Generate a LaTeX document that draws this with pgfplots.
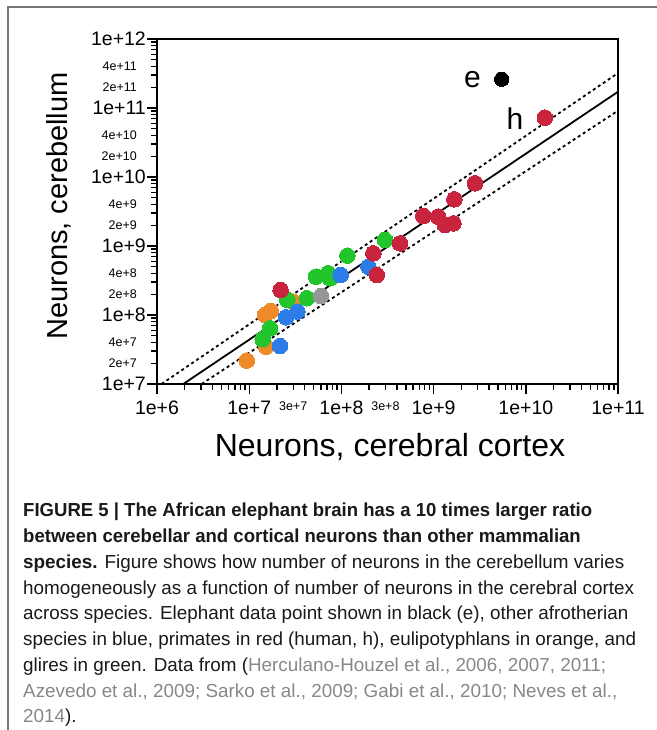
\documentclass[border=0pt]{standalone}
\usepackage{pgfplots}
\pgfplotsset{compat=1.18}
\usepackage{fontspec}
\setmainfont{Liberation Sans}
\newcommand\fs[1]{\fontsize{#1bp}{#1bp}\selectfont}

\definecolor{cred}{RGB}{200,36,62}
\definecolor{cgreen}{RGB}{34,197,44}
\definecolor{cblue}{RGB}{45,125,232}
\definecolor{corange}{RGB}{238,138,40}
\definecolor{cgray}{RGB}{150,150,150}
\definecolor{captext}{RGB}{25,25,25}
\definecolor{citegray}{RGB}{135,135,135}
\definecolor{framegray}{RGB}{120,120,120}

\pgfplotsset{
  dot/.style={only marks, mark=*, mark size=7.8bp, color=#1,
    mark options={line width=0pt}},
}

\begin{document}
\begin{tikzpicture}[x=1bp,y=1bp]
\path[use as bounding box] (0,0) rectangle (657,730);
\draw[framegray, line width=1.4bp] (8,0) -- (8,723) -- (658,723);

\begin{axis}[
  at={(157bp,346bp)}, anchor=south west,
  width=461bp, height=345bp, scale only axis,
  xmode=log, ymode=log,
  xmin=1e6, xmax=1e11, ymin=1e7, ymax=1e12,
  axis line style={line width=1.6bp},
  every tick/.style={black, line width=1.4bp},
  tick align=outside, xtick pos=lower, ytick pos=left,
  major tick length=10bp, minor tick length=6bp,
  /pgf/number format/assume math mode=true,
  xtick={1e6,1e7,1e8,1e9,1e10,1e11},
  xticklabels={1e+6,1e+7,1e+8,1e+9,1e+10,1e+11},
  ytick={1e7,1e8,1e9,1e10,1e11,1e12},
  yticklabels={1e+7,1e+8,1e+9,1e+10,1e+11,1e+12},
  minor xtick={2e6,3e6,4e6,5e6,6e6,7e6,8e6,9e6,
    2e7,3e7,4e7,5e7,6e7,7e7,8e7,9e7,
    2e8,3e8,4e8,5e8,6e8,7e8,8e8,9e8,
    2e9,3e9,4e9,5e9,6e9,7e9,8e9,9e9,
    2e10,3e10,4e10,5e10,6e10,7e10,8e10,9e10},
  minor ytick={2e7,3e7,4e7,5e7,6e7,7e7,8e7,9e7,
    2e8,3e8,4e8,5e8,6e8,7e8,8e8,9e8,
    2e9,3e9,4e9,5e9,6e9,7e9,8e9,9e9,
    2e10,3e10,4e10,5e10,6e10,7e10,8e10,9e10,
    2e11,3e11,4e11,5e11,6e11,7e11,8e11,9e11},
  xticklabel style={font=\fs{19.5}, inner sep=1bp, yshift=-6bp},
  yticklabel style={font=\fs{19.5}, inner sep=1bp},
  extra x ticks={3e7,3e8},
  extra x tick labels={3e+7,3e+8},
  extra x tick style={major tick length=6bp,
    xticklabel style={font=\fs{12.5}, yshift=-5bp}},
  extra y ticks={2e7,4e7,2e8,4e8,2e9,4e9,2e10,4e10,2e11,4e11},
  extra y tick labels={2e+7,4e+7,2e+8,4e+8,2e+9,4e+9,2e+10,4e+10,2e+11,4e+11},
  extra y tick style={major tick length=6bp,
    yticklabel style={font=\fs{12.5}, xshift=-13bp}},
  clip=true,
]
% fitted line and its band
\addplot[black, line width=1.8bp] coordinates {(1.93e6,1e7) (1e11,1.72e11)};
\addplot[black, line width=1.8bp, dash pattern=on 3bp off 3bp] coordinates {(1.12e6,1e7) (1e11,3.21e11)};
\addplot[black, line width=1.8bp, dash pattern=on 3bp off 3bp] coordinates {(3.05e6,1e7) (1e11,9.14e10)};

% eulipotyphlans
\addplot[dot=corange] coordinates {
  (9.4e6,2.18e7) (1.52e7,3.48e7) (1.48e7,1.0e8) (1.71e7,1.14e8) (3.0e7,1.56e8)};
% glires
\addplot[dot=cgreen] coordinates {
  (1.40e7,4.45e7) (1.68e7,6.4e7) (2.59e7,1.65e8) (4.21e7,1.75e8)
  (5.31e7,3.59e8) (7.52e7,3.40e8) (7.21e7,4.02e8) (1.16e8,7.24e8) (2.97e8,1.22e9)};
% grey
\addplot[dot=cgray] coordinates {(6.01e7,1.88e8)};
% other afrotherians
\addplot[dot=cblue] coordinates {
  (2.16e7,3.56e7) (2.51e7,9.27e7) (3.33e7,1.12e8) (9.82e7,3.80e8) (1.96e8,5.01e8)};
% primates
\addplot[dot=cred] coordinates {
  (2.19e7,2.30e8) (2.22e8,7.83e8) (2.42e8,3.80e8) (4.33e8,1.09e9)
  (7.73e8,2.72e9) (1.12e9,2.66e9) (1.33e9,2.01e9) (1.64e9,2.13e9)
  (1.68e9,4.75e9) (2.81e9,8.11e9) (1.61e10,7.23e10)};
% elephant
\addplot[only marks, mark=*, mark size=7.2bp, black, mark options={line width=0pt}]
  coordinates {(5.48e9,2.61e11)};

\node[anchor=base, font=\fs{30}] at (axis cs:2.64e9,2.01e11) {e};
\node[anchor=base, font=\fs{30}] at (axis cs:7.64e9,4.8e10) {h};
\end{axis}

\node[rotate=90, font=\fs{29}] at (59,524) {Neurons, cerebellum};
\node[anchor=base, font=\fs{32}, inner sep=0] at (390,273) {Neurons, cerebral cortex};

\begin{scope}[every node/.style={anchor=base west, inner sep=0, text=captext,
    font=\fs{18.85}}]
\node at (23,213) {\scalebox{0.984}[1]{\bfseries FIGURE 5 | The African elephant brain has a 10 times larger ratio}};
\node at (23,187.25) {\scalebox{0.984}[1]{\bfseries between cerebellar and cortical neurons than other mammalian}};
\node at (23,161.5) {\textbf{species.} Figure shows how number of neurons in the cerebellum varies};
\node at (23,135.75) {homogeneously as a function of number of neurons in the cerebral cortex};
\node at (23,110) {across species. Elephant data point shown in black (e), other afrotherian};
\node at (23,84.25) {species in blue, primates in red (human, h), eulipotyphlans in orange, and};
\node at (23,58.5) {glires in green. Data from (\textcolor{citegray}{Herculano-Houzel et al., 2006, 2007, 2011;}};
\node at (23,32.75) {\textcolor{citegray}{Azevedo et al., 2009; Sarko et al., 2009; Gabi et al., 2010; Neves et al.,}};
\node at (23,7) {\textcolor{citegray}{2014}).};
\end{scope}
\end{tikzpicture}
\end{document}
